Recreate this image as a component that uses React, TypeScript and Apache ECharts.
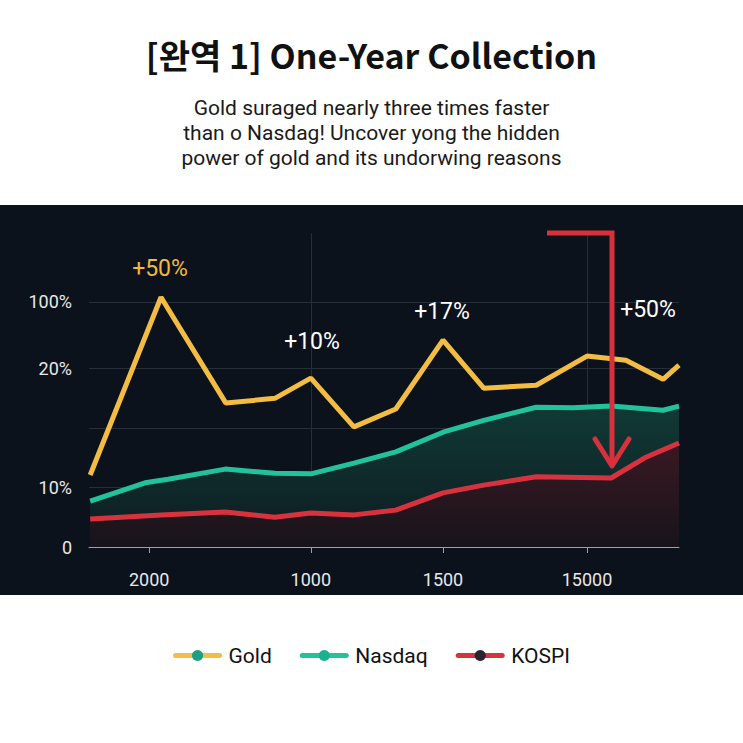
import React, { useEffect, useRef } from "react";
import * as echarts from "echarts";

const titleText = "[완역 1] One-Year Collection";
const subtitleLines = [
  "Gold suraged nearly three times faster",
  "than o Nasdag! Uncover yong the hidden",
  "power of gold and its undorwing reasons",
];

const goldX = [0.2, 12.2, 23.2, 31.5, 37.6, 44.9, 52.0, 60.0, 66.9, 75.8, 84.4, 91.0, 97.3, 100];
const goldY = [1.21, 4.2, 2.42, 2.5, 2.84, 2.02, 2.32, 3.48, 2.67, 2.72, 3.21, 3.14, 2.82, 3.06];

const nasdaqX = [0.2, 9.5, 13.4, 23.1, 31.5, 37.6, 44.9, 52.0, 60.0, 66.9, 75.8, 82.0, 88.5, 97.3, 100];
const nasdaqY = [0.77, 1.08, 1.14, 1.31, 1.24, 1.23, 1.41, 1.6, 1.93, 2.13, 2.35, 2.34, 2.37, 2.3, 2.37];

const kospiX = [0.2, 12.2, 23.1, 31.5, 37.6, 44.9, 52.0, 60.0, 66.9, 75.8, 88.5, 94.2, 100];
const kospiY = [0.47, 0.54, 0.59, 0.5, 0.57, 0.54, 0.62, 0.91, 1.04, 1.18, 1.16, 1.5, 1.75];

const xTickValues = [10.2, 37.6, 60.0, 84.4];
const xTickLabels = ["2000", "1000", "1500", "15000"];
const xGridValues = [37.6, 84.4];

const yLabelValues = [0, 1, 3, 4.12];
const yLabelTexts = ["0", "10%", "20%", "100%"];
const yGridValues = [1, 2, 3, 4.12];

const annotations = [
  { text: "+50%", x: 160, y: 268, color: "#f2b93b" },
  { text: "+10%", x: 312, y: 341, color: "#ffffff" },
  { text: "+17%", x: 442, y: 311, color: "#ffffff" },
  { text: "+50%", x: 648, y: 309, color: "#ffffff" },
];

const zip = (xs: number[], ys: number[]) => xs.map((x, i) => [x, ys[i]]);

const pickLabel = (v: number, vals: number[], labels: string[]) => {
  let best = 0;
  let bd = Infinity;
  vals.forEach((t, i) => {
    const d = Math.abs(t - v);
    if (d < bd) {
      bd = d;
      best = i;
    }
  });
  return labels[best];
};

export default function App() {
  const ref = useRef<HTMLDivElement>(null);
  useEffect(() => {
    if (!ref.current) return;
    const chart = echarts.init(ref.current, null, { renderer: "svg" });
    const font = "Roboto, 'Noto Sans', sans-serif";
    const legendLine = { width: 5, cap: "round" };
    const option: any = {
      animation: false,
      backgroundColor: "#ffffff",
      grid: { left: 89, right: 64, top: 233, bottom: 196 },
      xAxis: {
        type: "value",
        min: 0,
        max: 100,
        axisLine: { show: true, lineStyle: { color: "#9aa1aa", width: 1 } },
        axisTick: {
          show: true,
          customValues: xTickValues,
          length: 6,
          lineStyle: { color: "#9aa1aa" },
        },
        axisLabel: {
          customValues: xTickValues,
          formatter: (v: number) => pickLabel(v, xTickValues, xTickLabels),
          color: "#e8e8e8",
          fontSize: 18,
          fontFamily: font,
          margin: 23,
        },
        splitLine: { show: false },
      },
      yAxis: {
        type: "value",
        min: 0,
        max: 5.28,
        axisLine: { show: false },
        axisTick: { show: false, customValues: yGridValues },
        axisLabel: {
          customValues: yLabelValues,
          formatter: (v: number) => pickLabel(v, yLabelValues, yLabelTexts),
          color: "#e8e8e8",
          fontSize: 18,
          fontFamily: font,
          margin: 17,
        },
        splitLine: { show: true, lineStyle: { color: "#262e38", width: 1 } },
      },
      legend: {
        bottom: 72,
        left: "center",
        itemWidth: 44,
        itemHeight: 14,
        itemGap: 28,
        textStyle: { color: "#111111", fontSize: 21, fontFamily: font, padding: [0, 0, 0, 4] },
        data: [
          { name: "Gold", itemStyle: { color: "#1f9e80" }, lineStyle: legendLine },
          { name: "Nasdaq", itemStyle: { color: "#1fb08f" }, lineStyle: legendLine },
          { name: "KOSPI", itemStyle: { color: "#2a2430" }, lineStyle: legendLine },
        ],
      },
      graphic: [
        {
          type: "rect",
          z: -10,
          silent: true,
          shape: { x: 0, y: 205, width: 743, height: 390 },
          style: { fill: "#0c121b" },
        },
        {
          type: "text",
          left: "center",
          top: 37,
          style: {
            text: titleText,
            font: "bold 34px 'Noto Sans CJK KR', sans-serif",
            fill: "#111111",
          },
        },
        ...subtitleLines.map((line, i) => ({
          type: "text",
          left: "center",
          top: 97 + i * 25,
          style: {
            text: line,
            font: "21px Roboto, sans-serif",
            fill: "#1a1a1a",
          },
        })),
        ...annotations.map((a) => ({
          type: "text",
          x: a.x,
          y: a.y,
          z: 20,
          style: {
            text: a.text,
            font: "23px Roboto, sans-serif",
            fill: a.color,
            align: "center",
            verticalAlign: "middle",
          },
        })),
        {
          type: "polyline",
          z: 30,
          shape: { points: [[547, 233], [612, 233], [612, 465]] },
          style: { stroke: "#d8303c", lineWidth: 5, fill: null, lineJoin: "miter" },
        },
        {
          type: "polyline",
          z: 30,
          shape: { points: [[595, 439], [612, 466], [629, 439]] },
          style: { stroke: "#d8303c", lineWidth: 5, fill: null, lineCap: "round", lineJoin: "round" },
        },
      ],
      series: [
        {
          name: "Nasdaq",
          type: "line",
          data: zip(nasdaqX, nasdaqY),
          symbol: "circle",
          symbolSize: 10,
          showSymbol: false,
          z: 2,
          lineStyle: { color: "#22c39c", width: 5 },
          itemStyle: { color: "#22c39c" },
          areaStyle: {
            opacity: 1,
            color: new echarts.graphic.LinearGradient(0, 0, 0, 1, [
              { offset: 0, color: "#103a35" },
              { offset: 1, color: "#0e1b21" },
            ]),
          },
        },
        {
          name: "KOSPI",
          type: "line",
          data: zip(kospiX, kospiY),
          symbol: "circle",
          symbolSize: 10,
          showSymbol: false,
          z: 3,
          lineStyle: { color: "#d9323f", width: 5 },
          itemStyle: { color: "#d9323f" },
          areaStyle: {
            opacity: 1,
            color: new echarts.graphic.LinearGradient(0, 0, 0, 1, [
              { offset: 0, color: "#3a1822" },
              { offset: 1, color: "#17141b" },
            ]),
          },
        },
        {
          name: "Gold",
          type: "line",
          data: zip(goldX, goldY),
          symbol: "circle",
          symbolSize: 10,
          showSymbol: false,
          z: 4,
          lineStyle: { color: "#f2bd42", width: 5 },
          itemStyle: { color: "#f2bd42" },
          markLine: {
            silent: true,
            symbol: "none",
            label: { show: false },
            lineStyle: { color: "#262e38", width: 1, type: "solid" },
            data: xGridValues.map((v) => ({ xAxis: v })),
            z: 1,
          },
        },
      ],
    };
    chart.setOption(option);
    return () => chart.dispose();
  }, []);
  return (
    <div
      ref={ref}
      style={{ position: "fixed", left: 0, top: 0, width: 743, height: 743 }}
    />
  );
}
